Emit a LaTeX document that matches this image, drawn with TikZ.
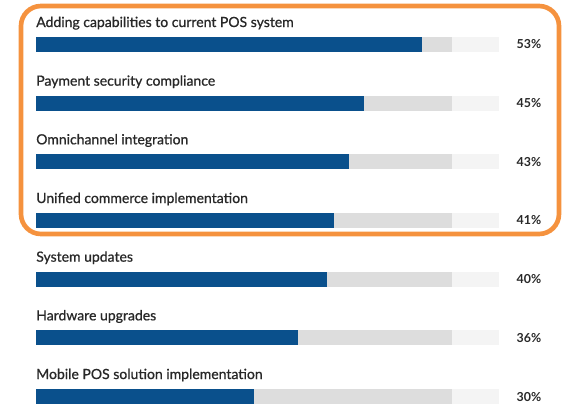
\documentclass[tikz,border=0pt]{standalone}
\usepackage{fontspec}
\setmainfont{Lato}
\newfontfamily\labelfont[FakeBold=0.8]{Lato}
\usepackage{tikz}
\usetikzlibrary{positioning}
\definecolor{barblue}{RGB}{10,80,140}
\definecolor{bargrey}{RGB}{221,221,221}
\definecolor{barpale}{RGB}{244,244,244}
\definecolor{boxorange}{RGB}{245,146,62}
\definecolor{labelgrey}{RGB}{40,40,40}

\begin{document}
\begin{tikzpicture}[x=0.75pt,y=0.75pt,yscale=-1,xscale=1,
  bartext/.style={anchor=base west,inner sep=0,font=\labelfont\fontsize{10.5}{12}\selectfont,text=labelgrey},
  pcttext/.style={anchor=center,inner sep=0,font=\bfseries\fontsize{9.3}{11}\selectfont,text=labelgrey}]
\useasboundingbox (0,0) rectangle (562,404);
\clip (0,0) rectangle (562,404);

%Bars, labels and percentages
\foreach \name/\val [count=\i] in {Adding capabilities to current POS system/53,
    Payment security compliance/45,
    Omnichannel integration/43,
    Unified commerce implementation/41,
    System updates/40,
    Hardware upgrades/36,
    Mobile POS solution implementation/30}{
  \pgfmathsetmacro{\yc}{44.5+58.67*(\i-1)}
  %Shape: Rectangle (track)
  \fill[bargrey] (36,\yc-7.5) rectangle (452,\yc+7.5);
  \fill[barpale] (452,\yc-7.5) rectangle (499,\yc+7.5);
  %Shape: Rectangle (value)
  \fill[barblue] (36,\yc-7.5) rectangle (36+7.28*\val,\yc+7.5);
  % Text Node
  \node[bartext] (label\i) at (36,\yc-17.5) {\name};
  % Text Node
  \node[pcttext] (pct\i) at (529,\yc) {\val\%};
}

%Shape: Rounded Rectangle
\draw[boxorange,line width=3.5,rounded corners=15] (21,6) rectangle (559,234);

\end{tikzpicture}
\end{document}
